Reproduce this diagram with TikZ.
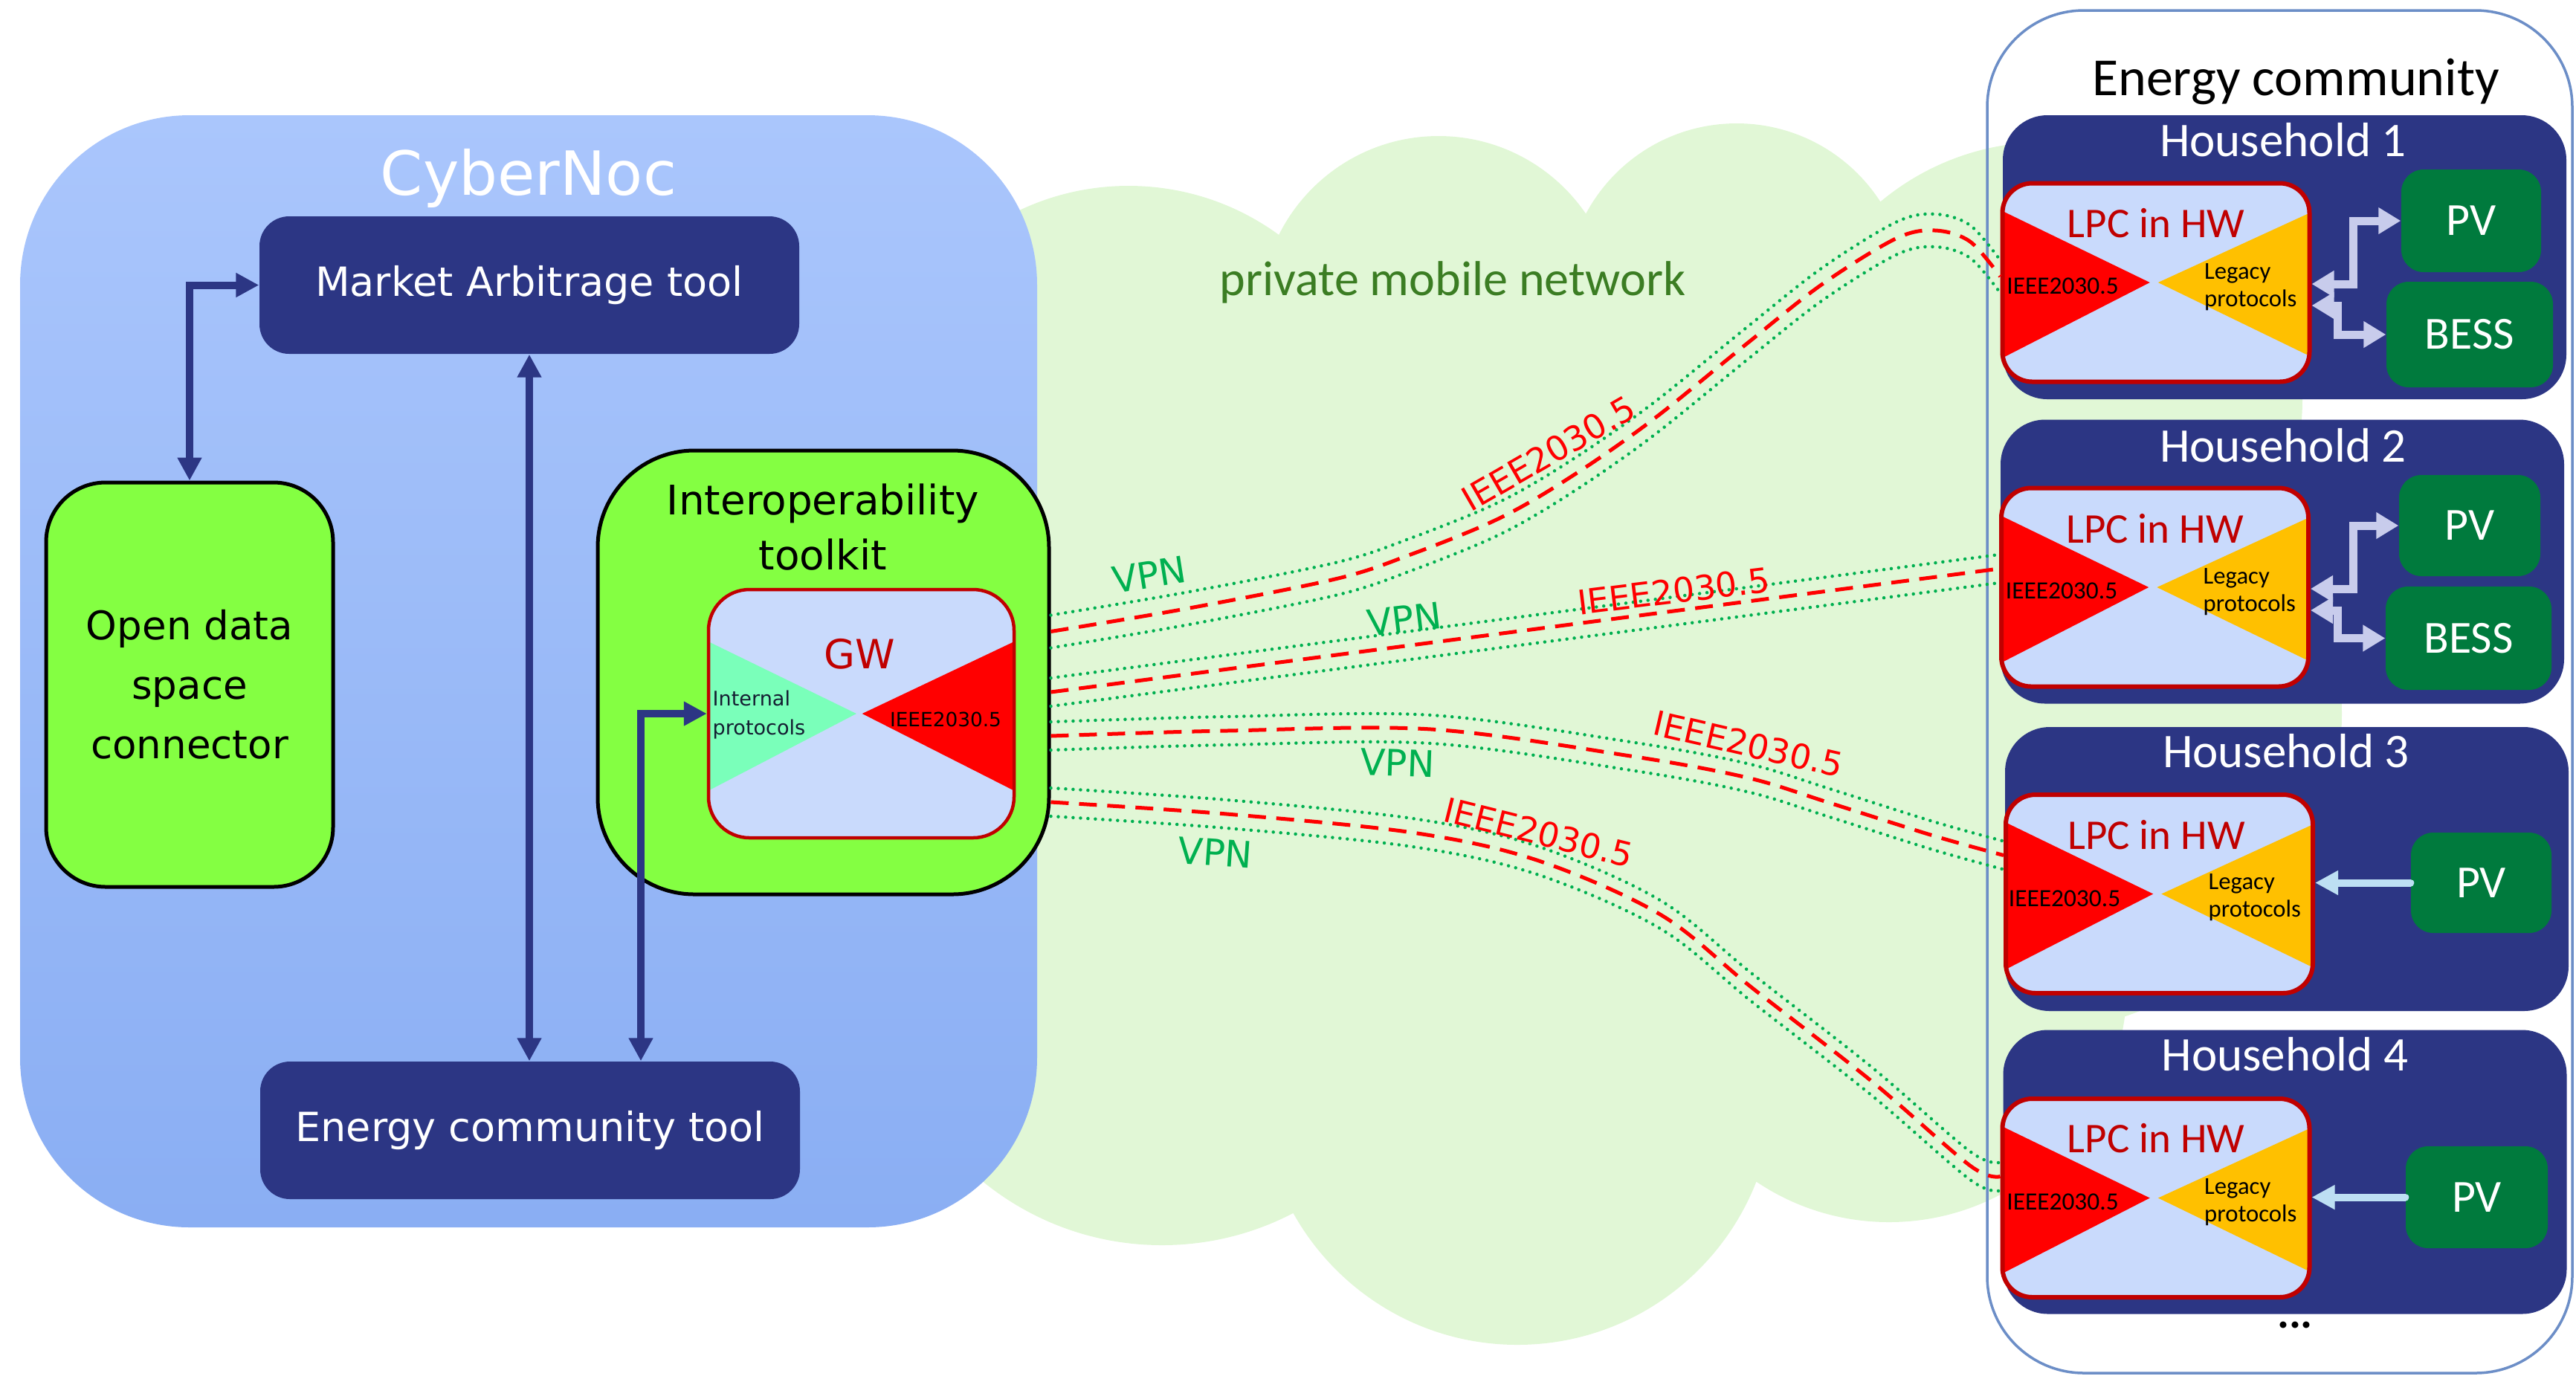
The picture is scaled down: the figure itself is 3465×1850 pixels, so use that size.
\documentclass[tikz,border=0pt]{standalone}
\usepackage{fontspec}
\setmainfont{Carlito}
\newfontfamily\vfont{DejaVu Sans}
\usetikzlibrary{arrows.meta,calc}

\definecolor{navy}{RGB}{44,54,132}
\definecolor{boxgreen}{RGB}{132,255,66}
\definecolor{lpcfill}{RGB}{201,218,252}
\definecolor{dred}{RGB}{192,0,0}
\definecolor{aqua}{RGB}{122,255,186}
\definecolor{amber}{RGB}{255,192,0}
\definecolor{pvgreen}{RGB}{0,122,61}
\definecolor{lav}{RGB}{200,204,236}
\definecolor{ltblue}{RGB}{189,223,243}
\definecolor{ecblue}{RGB}{108,142,199}
\definecolor{lkgreen}{RGB}{0,176,80}
\definecolor{pmngreen}{RGB}{59,125,35}
\definecolor{cloudgreen}{RGB}{225,247,214}
\definecolor{cnTop}{RGB}{170,198,252}
\definecolor{cnBot}{RGB}{138,174,243}
\definecolor{ipdark}{RGB}{20,30,50}

\newcommand\fsz[2]{\fontsize{#1}{#2}\selectfont}

\tikzset{
  cyberbox/.style={rounded corners=22.8mm, top color=cnTop, bottom color=cnBot, minimum width=136.8mm, minimum height=149.6mm, inner sep=0},
  navybox/.style={fill=navy, rounded corners=4mm, minimum width=72.6mm, minimum height=18.5mm, text=white, font=\vfont\fsz{15.4}{18}, inner sep=0},
  greenbox/.style={fill=boxgreen, draw=black, line width=0.5mm, inner sep=0},
  navyarr/.style={draw=navy, line width=1mm, >={Triangle[length=3.1mm,width=3.1mm]}, <->},
  lavarr/.style={draw=lav, line width=1.1mm, >={Triangle[length=3mm,width=3.4mm]}, <->},
  blarr/.style={draw=ltblue, line width=1mm, line cap=round, -{Triangle[length=3.1mm,width=3.1mm]}},
  gwbox/.style={fill=lpcfill, draw=dred, line width=0.45mm, rounded corners=5.5mm, minimum width=41.1mm, minimum height=33.4mm, inner sep=0,
    path picture={
      \fill[aqua, sharp corners] ($(path picture bounding box.north west)!0.21!(path picture bounding box.south west)$) -- ($(path picture bounding box.north west)!0.81!(path picture bounding box.south west)$) -- ($(path picture bounding box.west)!0.484!(path picture bounding box.east)$) -- cycle;
      \fill[red, sharp corners] ($(path picture bounding box.north east)!0.21!(path picture bounding box.south east)$) -- ($(path picture bounding box.north east)!0.81!(path picture bounding box.south east)$) -- ($(path picture bounding box.west)!0.503!(path picture bounding box.east)$) -- cycle;
    }},
  lpc/.style={fill=lpcfill, draw=dred, line width=0.6mm, rounded corners=4mm, minimum width=41.3mm, minimum height=26.7mm, inner sep=0,
    path picture={
      \fill[red, sharp corners] ($(path picture bounding box.north west)!0.14!(path picture bounding box.south west)$) -- ($(path picture bounding box.north west)!0.88!(path picture bounding box.south west)$) -- ($(path picture bounding box.west)!0.48!(path picture bounding box.east)$) -- cycle;
      \fill[amber, sharp corners] ($(path picture bounding box.north east)!0.15!(path picture bounding box.south east)$) -- ($(path picture bounding box.north east)!0.87!(path picture bounding box.south east)$) -- ($(path picture bounding box.west)!0.507!(path picture bounding box.east)$) -- cycle;
    }},
  hhbox/.style={fill=navy, rounded corners=6mm, minimum width=75.8mm, minimum height=38.2mm, inner sep=0},
  hhtitle/.style={text=white, font=\fsz{18.5}{22}, inner sep=0},
  lpctitle/.style={text=dred, font=\fsz{16.2}{19}, inner sep=0},
  lpcieee/.style={text=black, font=\fsz{9.5}{11}, inner sep=0},
  legacy/.style={anchor=west, align=left, text=black, font=\fsz{9.3}{10.5}, inner sep=0},
  pvbox/.style={fill=pvgreen, rounded corners=3mm, text=white, font=\fsz{17.6}{20}, inner sep=0},
  greendot/.style={draw=lkgreen, line width=0.45mm, line cap=round, dash pattern=on 0pt off 1mm},
  reddash/.style={draw=red, line width=0.5mm, dash pattern=on 2.4mm off 1.4mm},
  vpnlab/.style={text=lkgreen, font=\vfont\fsz{14}{16}, inner sep=0},
  ieeelab/.style={text=red, font=\vfont\fsz{13}{15}, inner sep=0},
}

\newcommand\linkA[2]{\draw[#1] plot[smooth,tension=0.55] coordinates {($(s1)+(0,#2)$) (1600,{818+#2}) (1800,{778+#2}) (1900,{745+#2}) (2000,{705+#2}) (2067,{670+#2}) (2150,{617+#2}) (2233,{557+#2}) (2350,{462+#2}) (2450,{383+#2}) (2550,{321+#2}) (2603,{310+#2}) (2650,{325+#2}) ($(e1)+(0,#2)$)};}
\newcommand\linkB[2]{\draw[#1] ($(s2)+(0,#2)$) -- ($(e2)+(0,#2)$);}
\newcommand\linkC[2]{\draw[#1] plot[smooth,tension=0.55] coordinates {($(s3)+(0,#2)$) (1650,{983+#2}) (1925,{981+#2}) (2193,{1017+#2}) (2350,{1046+#2}) (2461,{1080+#2}) (2600,{1124+#2}) ($(e3)+(0,#2)$)};}
\newcommand\linkD[2]{\draw[#1] plot[smooth,tension=0.55] coordinates {($(s4)+(0,#2)$) (1650,{1095+#2}) (1900,{1120+#2}) (2067,{1157+#2}) (2233,{1230+#2}) (2357,{1329+#2}) (2517,{1454+#2}) (2650,{1568+#2}) ($(e4)+(0,#2)$)};}

\begin{document}
\begin{tikzpicture}[x=0.1mm,y=-0.1mm]
\useasboundingbox (0,0) rectangle (3465,1850);

% cloud
\fill[cloudgreen] (1518,593) circle[radius=34.3mm] (1935,423) circle[radius=24mm]
  (2336,396) circle[radius=23mm] (2751,537) circle[radius=34.6mm]
  (2720,960) circle[radius=43mm] (2541,1324) circle[radius=32mm]
  (2041,1464) circle[radius=34.5mm] (1563,1293) circle[radius=38.2mm]
  (2150,950) circle[radius=45mm] (1700,900) circle[radius=30mm];
\node[text=pmngreen, font=\fsz{18.8}{22}, inner sep=0] (pmn) at (1954,380) {private mobile network};

% CyberNoc
\node[cyberbox] (cyber) at (711,903) {};
\node[text=white, font=\vfont\fsz{23.3}{26}, inner sep=0] (cybert) at (711,240) {CyberNoc};
\node[navybox] (ma) at (712,383.5) {Market Arbitrage tool};
\node[navybox] (ect) at (713,1520.5) {Energy community tool};
\node[greenbox, rounded corners=8mm, minimum width=38.6mm, minimum height=54.4mm, align=center, font=\vfont\fsz{15.1}{22.8}] (od) at (255,921) {Open data\\space\\connector};
\node[greenbox, rounded corners=13mm, minimum width=60.7mm, minimum height=59.7mm] (itk) at (1107.5,904.5) {};
\node[font=\vfont\fsz{15.6}{21.3}, align=center, inner sep=0] (itkt) at (1107,709) {Interoperability\\toolkit};
\node[gwbox] (gw) at (1158.5,960) {};
\node[text=dred, font=\vfont\fsz{15.4}{18}, inner sep=0] (gwt) at (1156,880) {GW};
\node[anchor=west, align=left, text=ipdark, font=\vfont\fsz{7.7}{11.1}, inner sep=0] (gwint) at (958,962) {Internal\\protocols};
\node[font=\vfont\fsz{7.5}{9}, inner sep=0] (gwieee) at (1272,968) {IEEE2030.5};

\draw[navyarr] (od.north) |- (ma.west);
\draw[navyarr] (ma.south) -- (ma.south |- ect.north);
\draw[navyarr] ($(ect.north)+(149,0)$) |- (gw.west);

% Energy community
\node[draw=ecblue, line width=0.35mm, rounded corners=13mm, minimum width=78.7mm, minimum height=183.3mm, inner sep=0] (ec) at (3066.5,930.5) {};
\node[font=\fsz{20.5}{24}, inner sep=0] (ectitle) at (3088,110) {Energy community};

% Household 1
\node[hhbox] (hh1) at (3073,346) {};
\node[hhtitle] (hh1t) at ($(hh1.north)+(-2,34)$) {Household 1};
\node[lpc] (lpc1) at (2900,380) {};
\node[lpctitle] (lpc1t) at ($(lpc1.center)+(0,-80)$) {LPC in HW};
\node[lpcieee] (lpc1i) at ($(lpc1.west)+(84,5)$) {IEEE2030.5};
\node[legacy] (lpc1l) at ($(lpc1.west)+(274,6)$) {Legacy\\protocols};
\node[pvbox, minimum width=18.8mm, minimum height=13.8mm] (pv1) at (3324,297) {PV};
\node[pvbox, minimum width=22.4mm, minimum height=14.2mm] (bess1) at (3322,450) {BESS};
\draw[lavarr] ($(lpc1.east)+(0,2)$) -- ++(56,0) |- (pv1.west);
\draw[lavarr] ($(lpc1.east)+(0,31)$) -- ++(35,0) |- (bess1.west);

% Household 2
\node[hhbox] (hh2) at (3070,755.5) {};
\node[hhtitle] (hh2t) at ($(hh2.north)+(1,35)$) {Household 2};
\node[lpc] (lpc2) at (2898.5,790) {};
\node[lpctitle] (lpc2t) at ($(lpc2.center)+(0,-79)$) {LPC in HW};
\node[lpcieee] (lpc2i) at ($(lpc2.west)+(84,5)$) {IEEE2030.5};
\node[legacy] (lpc2l) at ($(lpc2.west)+(274,6)$) {Legacy\\protocols};
\node[pvbox, minimum width=19mm, minimum height=13.6mm] (pv2) at (3322,707) {PV};
\node[pvbox, minimum width=22.3mm, minimum height=13.9mm] (bess2) at (3320.5,858.5) {BESS};
\draw[lavarr] ($(lpc2.east)+(0,2)$) -- ++(57,0) |- (pv2.west);
\draw[lavarr] ($(lpc2.east)+(0,31)$) -- ++(36,0) |- (bess2.west);

% Household 3
\node[hhbox] (hh3) at (3076,1169) {};
\node[hhtitle] (hh3t) at ($(hh3.north)+(-1,33)$) {Household 3};
\node[lpc] (lpc3) at (2904.5,1202.5) {};
\node[lpctitle] (lpc3t) at ($(lpc3.center)+(-4,-79)$) {LPC in HW};
\node[lpcieee] (lpc3i) at ($(lpc3.west)+(82,6)$) {IEEE2030.5};
\node[legacy] (lpc3l) at ($(lpc3.west)+(275,5)$) {Legacy\\protocols};
\node[pvbox, minimum width=18.9mm, minimum height=13.5mm] (pv3) at (3337.5,1187.5) {PV};
\draw[blarr] (pv3.west) -- (pv3.west -| lpc3.east);

% Household 4
\node[hhbox] (hh4) at (3073.5,1576.5) {};
\node[hhtitle] (hh4t) at ($(hh4.north)+(0,33)$) {Household 4};
\node[lpc] (lpc4) at (2900,1611.5) {};
\node[lpctitle] (lpc4t) at ($(lpc4.center)+(0,-80)$) {LPC in HW};
\node[lpcieee] (lpc4i) at ($(lpc4.west)+(84,5)$) {IEEE2030.5};
\node[legacy] (lpc4l) at ($(lpc4.west)+(274,6)$) {Legacy\\protocols};
\node[pvbox, minimum width=19.1mm, minimum height=13.7mm] (pv4) at (3331.5,1610.5) {PV};
\draw[blarr] (pv4.west) -- (pv4.west -| lpc4.east);
\node[font=\bfseries\fsz{17}{20}, inner sep=0] (dots) at (3087,1782) {...};

% links
\coordinate (s1) at ($(itk.east)+(0,-55)$);
\coordinate (s2) at ($(itk.east)+(0,26.5)$);
\coordinate (s3) at ($(itk.east)+(0,85.5)$);
\coordinate (s4) at ($(itk.east)+(0,174.5)$);
\coordinate (e1) at ($(lpc1.west)+(0,-8)$);
\coordinate (e2) at ($(lpc2.west)+(0,-25)$);
\coordinate (e3) at ($(lpc3.west)+(0,-52)$);
\coordinate (e4) at ($(lpc4.west)+(0,-29)$);

\linkA{greendot}{-22}\linkA{greendot}{22}\linkA{reddash}{0}
\linkB{greendot}{-19}\linkB{greendot}{19}\linkB{reddash}{0}
\linkC{greendot}{-19}\linkC{greendot}{19}\linkC{reddash}{0}
\linkD{greendot}{-19}\linkD{greendot}{19}\linkD{reddash}{0}

\node[vpnlab, rotate=9] (v1) at (1546,773) {VPN};
\node[ieeelab, rotate=30] (i1) at (2083,610) {IEEE2030.5};
\node[vpnlab, rotate=7] (v2) at (1889,833) {VPN};
\node[ieeelab, rotate=7] (i2) at (2251,795) {IEEE2030.5};
\node[vpnlab, rotate=-2] (v3) at (1880,1026) {VPN};
\node[ieeelab, rotate=-13] (i3) at (2352,1001) {IEEE2030.5};
\node[vpnlab, rotate=-4] (v4) at (1635,1147) {VPN};
\node[ieeelab, rotate=-14] (i4) at (2070,1120) {IEEE2030.5};
\end{tikzpicture}
\end{document}
